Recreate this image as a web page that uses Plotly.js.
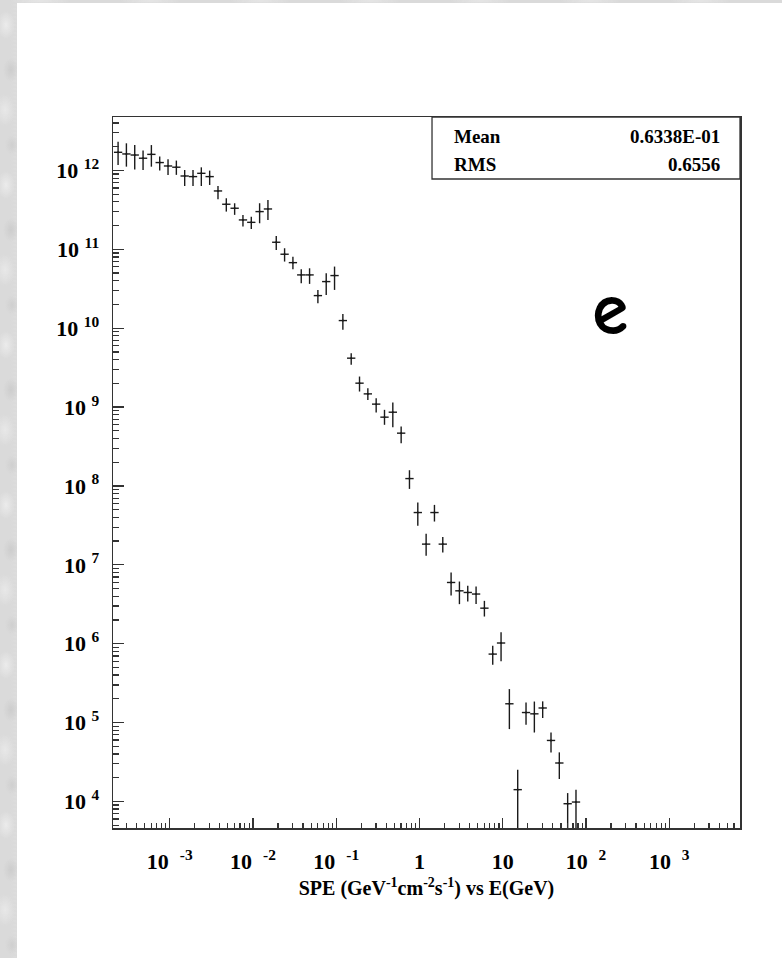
<!DOCTYPE html>
<html>
<head>
<meta charset="utf-8">
<script src="https://cdn.plot.ly/plotly-3.0.1.min.js"></script>
<style>
  html, body { margin: 0; padding: 0; width: 782px; height: 958px; overflow: hidden; }
  body {
    background-color: #dadada;
    background-image:
      radial-gradient(ellipse 9px 14px at 6px 25px, #ebebeb, transparent),
      radial-gradient(ellipse 8px 12px at 11px 70px, #cdcdcd, transparent),
      radial-gradient(ellipse 10px 16px at 5px 110px, #e8e8e8, transparent),
      radial-gradient(ellipse 7px 10px at 12px 145px, #d0d0d0, transparent),
      radial-gradient(ellipse 30px 3px at 40px 1px, #e6e6e6, transparent);
    background-size: 17px 160px, 17px 160px, 17px 160px, 17px 160px, 110px 4px;
  }
  #sheet { position: absolute; left: 17px; top: 3px; right: 0; bottom: 0; background: #ffffff; }
  #plot { position: absolute; left: 0; top: 0; width: 782px; height: 958px; }
</style>
</head>
<body>
<div id="sheet"></div>
<div id="plot"></div>
<script>
// bin centres, log10(E / GeV)
const logE = [-3.62, -3.52, -3.42, -3.32, -3.22, -3.12, -3.02, -2.92, -2.82, -2.72,
              -2.62, -2.52, -2.42, -2.32, -2.22, -2.12, -2.02, -1.92, -1.82, -1.72,
              -1.62, -1.52, -1.42, -1.32, -1.22, -1.12, -1.02, -0.92, -0.82, -0.72,
              -0.62, -0.52, -0.42, -0.32, -0.22, -0.12, -0.02, 0.08, 0.18, 0.28,
              0.38, 0.48, 0.58, 0.68, 0.78, 0.88, 0.98, 1.08, 1.18, 1.28,
              1.38, 1.48, 1.58, 1.68, 1.78, 1.88];
// SPE values
const spe = [1.70e12, 1.62e12, 1.57e12, 1.43e12, 1.60e12, 1.26e12, 1.14e12, 1.10e12, 8.51e11, 8.36e11,
             9.20e11, 8.36e11, 5.50e11, 3.73e11, 3.32e11, 2.36e11, 2.20e11, 3.01e11, 3.25e11, 1.23e11,
             8.67e10, 6.78e10, 4.74e10, 4.74e10, 2.59e10, 3.90e10, 4.65e10, 1.25e10, 4.17e9, 2.01e9,
             1.47e9, 1.09e9, 7.45e8, 8.61e8, 4.67e8, 1.24e8, 4.60e7, 1.83e7, 4.60e7, 1.83e7,
             5.97e6, 4.68e6, 4.46e6, 4.26e6, 2.82e6, 7.38e5, 1.02e6, 1.73e5, 1.41e4, 1.34e5,
             1.29e5, 1.53e5, 5.93e4, 3.07e4, 9.35e3, 9.82e3];
// error bar extents, in decades above / below the value
const errUpDec = [0.135, 0.135, 0.127, 0.097, 0.118, 0.076, 0.084, 0.084, 0.076, 0.084,
                  0.076, 0.076, 0.063, 0.076, 0.063, 0.063, 0.072, 0.106, 0.114, 0.080,
                  0.076, 0.076, 0.072, 0.084, 0.072, 0.106, 0.114, 0.084, 0.063, 0.084,
                  0.072, 0.076, 0.093, 0.123, 0.084, 0.106, 0.127, 0.131, 0.097, 0.089,
                  0.127, 0.118, 0.084, 0.097, 0.093, 0.106, 0.135, 0.186, 0.253, 0.127,
                  0.156, 0.084, 0.101, 0.135, 0.135, 0.156];
const errDnDec = [0.161, 0.161, 0.182, 0.148, 0.156, 0.101, 0.114, 0.097, 0.127, 0.118,
                  0.161, 0.106, 0.106, 0.093, 0.084, 0.084, 0.084, 0.148, 0.139, 0.097,
                  0.093, 0.084, 0.106, 0.114, 0.097, 0.169, 0.182, 0.118, 0.084, 0.106,
                  0.076, 0.106, 0.097, 0.190, 0.127, 0.131, 0.169, 0.148, 0.114, 0.106,
                  0.165, 0.169, 0.114, 0.127, 0.106, 0.135, 0.232, 0.321, 2.000, 0.156,
                  0.237, 0.127, 0.152, 0.203, 2.000, 2.000];
const binHalfDec = 0.05;

const xTickVals = [1e-3, 1e-2, 1e-1, 1, 10, 100, 1000];
const xTickText = ['10 \u00a0<sup>-3</sup>', '10 \u00a0<sup>-2</sup>', '10 \u00a0<sup>-1</sup>', '1', '10', '10 \u00a0<sup>2</sup>', '10 \u00a0<sup>3</sup>'];
const yTickVals = [1e4, 1e5, 1e6, 1e7, 1e8, 1e9, 1e10, 1e11, 1e12];
const yTickText = ['10 <sup>4</sup>', '10 <sup>5</sup>', '10 <sup>6</sup>', '10 <sup>7</sup>', '10 <sup>8</sup>',
                   '10 <sup>9</sup>', '10 <sup>10</sup>', '10 <sup>11</sup>', '10 <sup>12</sup>'];

const statLabels = ['Mean', 'RMS'];
const statValues = ['0.6338E-01', '0.6556'];

const E = logE.map(v => Math.pow(10, v));
const exPlus = E.map(e => e * (Math.pow(10, binHalfDec) - 1));
const exMinus = E.map(e => e * (1 - Math.pow(10, -binHalfDec)));
const eyPlus = spe.map((y, i) => y * (Math.pow(10, errUpDec[i]) - 1));
const eyMinus = spe.map((y, i) => y * (1 - Math.pow(10, -errDnDec[i])));

const serif = 'Liberation Serif, Times New Roman, serif';
const ink = '#1a1a1a';

const trace = {
  type: 'scatter', mode: 'markers', x: E, y: spe,
  marker: { size: 2, color: ink },
  error_x: { type: 'data', symmetric: false, array: exPlus, arrayminus: exMinus, width: 0, thickness: 1.4, color: ink },
  error_y: { type: 'data', symmetric: false, array: eyPlus, arrayminus: eyMinus, width: 0, thickness: 1.4, color: ink },
  hoverinfo: 'x+y', showlegend: false
};

const statsTop = 0.9128;
const annotations = [];
statLabels.forEach((s, i) => {
  annotations.push({ xref: 'paper', yref: 'paper', x: 0.5407, y: [0.9723, 0.9326][i], xanchor: 'left', yanchor: 'middle',
    text: '<b>' + s + '</b>', showarrow: false, font: { family: serif, size: 19, color: '#000' } });
  annotations.push({ xref: 'paper', yref: 'paper', x: 0.9713, y: [0.9723, 0.9326][i], xanchor: 'right', yanchor: 'middle',
    text: '<b>' + statValues[i] + '</b>', showarrow: false, font: { family: serif, size: 19, color: '#000' } });
});
annotations.push({ xref: 'paper', yref: 'paper', x: 0.7927, y: 0.7290, xanchor: 'center', yanchor: 'middle',
  text: '<b>e</b>', showarrow: false, font: { family: 'Comic Sans MS, Comic Neue, DejaVu Sans, sans-serif', size: 74, color: '#000' } });

const layout = {
  width: 782, height: 958,
  margin: { l: 113, r: 42, t: 117, b: 130 },
  paper_bgcolor: 'rgba(0,0,0,0)', plot_bgcolor: '#ffffff',
  font: { family: serif, color: '#000' },
  xaxis: {
    type: 'log', range: [-3.681, 3.85], showgrid: false, zeroline: false,
    showline: true, mirror: true, linecolor: '#333', linewidth: 1.5,
    ticks: 'inside', ticklen: 10, tickwidth: 1.2, tickcolor: '#333',
    tickmode: 'array', tickvals: xTickVals, ticktext: xTickText,
    tickfont: { family: serif, size: 22, color: '#000', weight: 'bold' },
    ticklabelstandoff: 13,
    minor: { dtick: 'D1', ticks: 'inside', ticklen: 5, tickwidth: 1.2, tickcolor: '#333', showgrid: false },
    title: { text: '<b>SPE (GeV<sup>-1</sup>cm<sup>-2</sup>s<sup>-1</sup>) vs E(GeV)</b>', font: { family: serif, size: 20, color: '#000' }, standoff: 8 }
  },
  yaxis: {
    type: 'log', range: [3.663, 12.678], showgrid: false, zeroline: false,
    showline: true, mirror: true, linecolor: '#333', linewidth: 1.5,
    ticks: 'inside', ticklen: 11, tickwidth: 1.2, tickcolor: '#333',
    tickmode: 'array', tickvals: yTickVals, ticktext: yTickText,
    tickfont: { family: serif, size: 22, color: '#000', weight: 'bold' },
    ticklabelstandoff: 8,
    minor: { dtick: 'D1', ticks: 'inside', ticklen: 6, tickwidth: 1.2, tickcolor: '#333', showgrid: false }
  },
  shapes: [{ type: 'rect', xref: 'paper', yref: 'paper', x0: 0.5088, x1: 1, y0: statsTop, y1: 1,
             line: { color: '#333', width: 1.3 }, fillcolor: 'rgba(0,0,0,0)' }],
  annotations: annotations
};

Plotly.newPlot('plot', [trace], layout, { displayModeBar: false, staticPlot: true });
</script>
</body>
</html>
